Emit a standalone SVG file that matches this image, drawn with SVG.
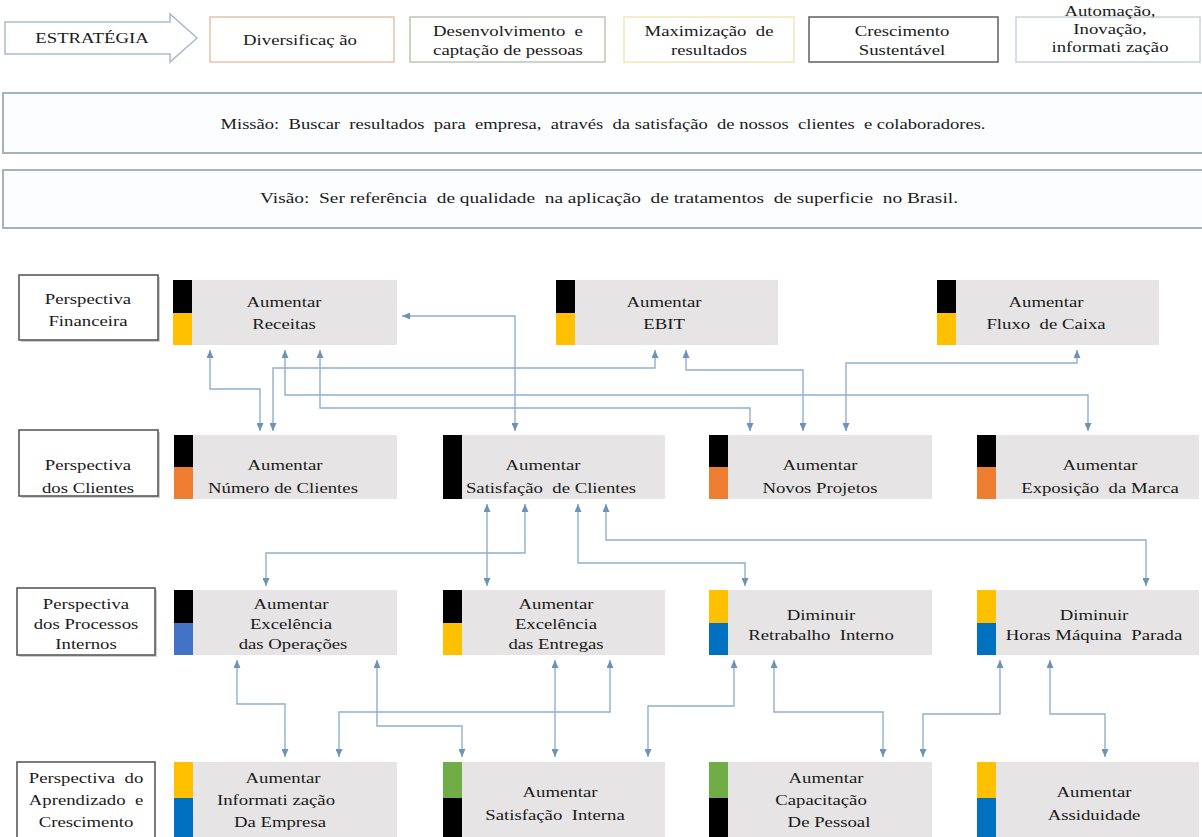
<svg xmlns="http://www.w3.org/2000/svg" width="1202" height="837" viewBox="0 0 1202 837" font-family="Liberation Serif, Times New Roman, serif">
<style>
.t{font-size:15px;fill:#1a1a1a;text-anchor:middle;white-space:pre}
.gb{fill:#e6e4e4}
.pb{fill:#ffffff;stroke:#5a5a5a;stroke-width:1.6}
.sh{fill:#d0d0d0}
.c{fill:none;stroke:#8fb0cd;stroke-width:1.4;marker-start:url(#ah);marker-end:url(#ah)}
.sb{fill:#ffffff;stroke-width:1.5}
.mv{fill:#fcfdfe;stroke:#a5b1bc;stroke-width:2}
</style>
<defs>
<marker id="ah" viewBox="0 0 8 7" refX="8" refY="3.5" markerWidth="8" markerHeight="7" markerUnits="userSpaceOnUse" orient="auto-start-reverse">
<path d="M0,0 L8,3.5 L0,7 z" fill="#6f93b6"/>
</marker>
</defs>
<rect width="1202" height="837" fill="#ffffff"/>

<g id="estrategia">
<polygon points="5,22 170,22 170,14 197,38 170,62 170,54 5,54" fill="#ffffff" stroke="#a9bacb" stroke-width="1.5"/>
<text class="t" transform="translate(92 43) scale(1.25 1)">ESTRATÉGIA</text>
</g>
<g id="s-diversificacao">
<rect class="sb" x="210" y="17" width="184" height="45" stroke="#e3c4aa"/>
<text class="t" transform="translate(300 45) scale(1.25 1)">Diversificaç ão</text>
</g>
<g id="s-desenvolvimento">
<rect class="sb" x="410" y="17" width="195" height="45" stroke="#bcc6b6"/>
<text class="t" transform="translate(508 36) scale(1.25 1)">Desenvolvimento  e</text>
<text class="t" transform="translate(508 55) scale(1.25 1)">captação de pessoas</text>
</g>
<g id="s-maximizacao">
<rect class="sb" x="624" y="17" width="170" height="45" stroke="#f1e7b6"/>
<text class="t" transform="translate(709 36) scale(1.25 1)">Maximização  de</text>
<text class="t" transform="translate(709 55) scale(1.25 1)">resultados</text>
</g>
<g id="s-crescimento">
<rect class="sb" x="809" y="17" width="189" height="45" stroke="#5f5f5f" stroke-width="2"/>
<text class="t" transform="translate(902 36) scale(1.25 1)">Crescimento</text>
<text class="t" transform="translate(902 55) scale(1.25 1)">Sustentável</text>
</g>
<g id="s-automacao">
<rect class="sb" x="1016" y="17" width="184" height="45" stroke="#c9d3da"/>
<text class="t" transform="translate(1110 16) scale(1.25 1)">Automação,</text>
<text class="t" transform="translate(1110 34) scale(1.25 1)">Inovação,</text>
<text class="t" transform="translate(1110 52) scale(1.25 1)">informati zação</text>
</g>

<g id="missao">
<rect class="mv" x="3" y="93" width="1210" height="60"/>
<text class="t" style="font-size:14px" x="603" y="129" textLength="765" lengthAdjust="spacingAndGlyphs">Missão:  Buscar  resultados  para  empresa,  através  da satisfação  de nossos  clientes  e colaboradores.</text>
</g>
<g id="visao">
<rect class="mv" x="3" y="170" width="1210" height="58"/>
<text class="t" style="font-size:14px" x="609" y="203" textLength="698" lengthAdjust="spacingAndGlyphs">Visão:  Ser referência  de qualidade  na aplicação  de tratamentos  de superficie  no Brasil.</text>
</g>

<g id="p-financeira">
<rect class="sh" x="21" y="277" width="139" height="65"/>
<rect class="pb" x="19" y="275" width="139" height="65"/>
<text class="t" transform="translate(88 304) scale(1.25 1)">Perspectiva</text>
<text class="t" transform="translate(88 326) scale(1.25 1)">Financeira</text>
</g>
<g id="p-clientes">
<rect class="sh" x="21" y="432" width="139" height="66"/>
<rect class="pb" x="19" y="430" width="139" height="66"/>
<text class="t" transform="translate(88 470) scale(1.25 1)">Perspectiva</text>
<text class="t" transform="translate(88 493) scale(1.25 1)">dos Clientes</text>
</g>
<g id="p-processos">
<rect class="sh" x="19" y="590" width="138" height="67"/>
<rect class="pb" x="17" y="588" width="138" height="67"/>
<text class="t" transform="translate(86 609) scale(1.25 1)">Perspectiva</text>
<text class="t" transform="translate(86 629) scale(1.25 1)">dos Processos</text>
<text class="t" transform="translate(86 649) scale(1.25 1)">Internos</text>
</g>
<g id="p-aprendizado">
<rect class="pb" x="17" y="762" width="138" height="90"/>
<text class="t" transform="translate(86 783) scale(1.25 1)">Perspectiva  do</text>
<text class="t" transform="translate(86 805) scale(1.25 1)">Aprendizado  e</text>
<text class="t" transform="translate(86 827) scale(1.25 1)">Crescimento</text>
</g>

<g id="n-receitas">
<rect class="gb" x="192" y="280" width="205" height="65"/>
<rect x="173" y="280" width="19" height="33" fill="#000"/>
<rect x="173" y="313" width="19" height="32" fill="#ffc000"/>
<text class="t" transform="translate(284 307) scale(1.25 1)">Aumentar</text>
<text class="t" transform="translate(284 329) scale(1.25 1)">Receitas</text>
</g>
<g id="n-ebit">
<rect class="gb" x="575" y="280" width="203" height="65"/>
<rect x="556" y="280" width="19" height="33" fill="#000"/>
<rect x="556" y="313" width="19" height="32" fill="#ffc000"/>
<text class="t" transform="translate(664 307) scale(1.25 1)">Aumentar</text>
<text class="t" transform="translate(664 329) scale(1.25 1)">EBIT</text>
</g>
<g id="n-fluxo">
<rect class="gb" x="956" y="280" width="203" height="65"/>
<rect x="937" y="280" width="19" height="33" fill="#000"/>
<rect x="937" y="313" width="19" height="32" fill="#ffc000"/>
<text class="t" transform="translate(1046 307) scale(1.25 1)">Aumentar</text>
<text class="t" transform="translate(1046 329) scale(1.25 1)">Fluxo  de Caixa</text>
</g>

<g id="n-numero-clientes">
<rect class="gb" x="193" y="435" width="204" height="64"/>
<rect x="174" y="435" width="19" height="32" fill="#000"/>
<rect x="174" y="467" width="19" height="32" fill="#ed7d31"/>
<text class="t" transform="translate(285 470) scale(1.25 1)">Aumentar</text>
<text class="t" transform="translate(283 493) scale(1.25 1)">Número de Clientes</text>
</g>
<g id="n-satisfacao-clientes">
<rect class="gb" x="462" y="435" width="203" height="64"/>
<rect x="443" y="435" width="19" height="64" fill="#000"/>
<text class="t" transform="translate(543 470) scale(1.25 1)">Aumentar</text>
<text class="t" transform="translate(551 493) scale(1.25 1)">Satisfação  de Clientes</text>
</g>
<g id="n-novos-projetos">
<rect class="gb" x="728" y="435" width="204" height="64"/>
<rect x="709" y="435" width="19" height="32" fill="#000"/>
<rect x="709" y="467" width="19" height="32" fill="#ed7d31"/>
<text class="t" transform="translate(820 470) scale(1.25 1)">Aumentar</text>
<text class="t" transform="translate(820 493) scale(1.25 1)">Novos Projetos</text>
</g>
<g id="n-exposicao-marca">
<rect class="gb" x="996" y="435" width="203" height="64"/>
<rect x="977" y="435" width="19" height="32" fill="#000"/>
<rect x="977" y="467" width="19" height="32" fill="#ed7d31"/>
<text class="t" transform="translate(1100 470) scale(1.25 1)">Aumentar</text>
<text class="t" transform="translate(1100 493) scale(1.25 1)">Exposição  da Marca</text>
</g>

<g id="n-excelencia-operacoes">
<rect class="gb" x="193" y="590" width="204" height="65"/>
<rect x="174" y="590" width="19" height="33" fill="#000"/>
<rect x="174" y="623" width="19" height="32" fill="#4472c4"/>
<text class="t" transform="translate(291 609) scale(1.25 1)">Aumentar</text>
<text class="t" transform="translate(291 629) scale(1.25 1)">Excelência</text>
<text class="t" transform="translate(293 649) scale(1.25 1)">das Operações</text>
</g>
<g id="n-excelencia-entregas">
<rect class="gb" x="462" y="590" width="203" height="65"/>
<rect x="443" y="590" width="19" height="33" fill="#000"/>
<rect x="443" y="623" width="19" height="32" fill="#ffc000"/>
<text class="t" transform="translate(556 609) scale(1.25 1)">Aumentar</text>
<text class="t" transform="translate(556 629) scale(1.25 1)">Excelência</text>
<text class="t" transform="translate(556 649) scale(1.25 1)">das Entregas</text>
</g>
<g id="n-retrabalho">
<rect class="gb" x="728" y="590" width="204" height="65"/>
<rect x="709" y="590" width="19" height="33" fill="#ffc000"/>
<rect x="709" y="623" width="19" height="32" fill="#0070c0"/>
<text class="t" transform="translate(821 620) scale(1.25 1)">Diminuir</text>
<text class="t" transform="translate(821 640) scale(1.25 1)">Retrabalho  Interno</text>
</g>
<g id="n-horas-maquina">
<rect class="gb" x="996" y="590" width="203" height="65"/>
<rect x="977" y="590" width="19" height="33" fill="#ffc000"/>
<rect x="977" y="623" width="19" height="32" fill="#0070c0"/>
<text class="t" transform="translate(1094 620) scale(1.25 1)">Diminuir</text>
<text class="t" transform="translate(1094 640) scale(1.25 1)">Horas Máquina  Parada</text>
</g>

<g id="n-informatizacao">
<rect class="gb" x="193" y="762" width="204" height="90"/>
<rect x="174" y="762" width="19" height="36" fill="#ffc000"/>
<rect x="174" y="798" width="19" height="54" fill="#0070c0"/>
<text class="t" transform="translate(283 783) scale(1.25 1)">Aumentar</text>
<text class="t" transform="translate(276 805) scale(1.25 1)">Informati zação</text>
<text class="t" transform="translate(280 827) scale(1.25 1)">Da Empresa</text>
</g>
<g id="n-satisfacao-interna">
<rect class="gb" x="462" y="762" width="203" height="90"/>
<rect x="443" y="762" width="19" height="36" fill="#70ad47"/>
<rect x="443" y="798" width="19" height="54" fill="#000"/>
<text class="t" transform="translate(560 797) scale(1.25 1)">Aumentar</text>
<text class="t" transform="translate(555 820) scale(1.25 1)">Satisfação  Interna</text>
</g>
<g id="n-capacitacao">
<rect class="gb" x="728" y="762" width="204" height="90"/>
<rect x="709" y="762" width="19" height="36" fill="#70ad47"/>
<rect x="709" y="798" width="19" height="54" fill="#000"/>
<text class="t" transform="translate(826 783) scale(1.25 1)">Aumentar</text>
<text class="t" transform="translate(821 805) scale(1.25 1)">Capacitação</text>
<text class="t" transform="translate(829 827) scale(1.25 1)">De Pessoal</text>
</g>
<g id="n-assiduidade">
<rect class="gb" x="996" y="762" width="203" height="90"/>
<rect x="977" y="762" width="19" height="36" fill="#ffc000"/>
<rect x="977" y="798" width="19" height="54" fill="#0070c0"/>
<text class="t" transform="translate(1094 797) scale(1.25 1)">Aumentar</text>
<text class="t" transform="translate(1094 820) scale(1.25 1)">Assiduidade</text>
</g>

<g id="connectors">
<path class="c" d="M210,350 V389 H260 V431"/>
<path class="c" d="M273,431 V368 H655 V350"/>
<path class="c" d="M285,350 V395 H1088 V431"/>
<path class="c" d="M320,350 V408 H750 V431"/>
<path class="c" d="M686,350 V370 H803 V431"/>
<path class="c" d="M1077,350 V363 H846 V431"/>
<path class="c" d="M402,316 H515 V431"/>

<path class="c" d="M487,504 V586"/>
<path class="c" d="M525,504 V553 H266 V586"/>
<path class="c" d="M578,504 V563 H745 V586"/>
<path class="c" d="M606,504 V540 H1146 V586"/>

<path class="c" d="M237,660 V704 H285 V757"/>
<path class="c" d="M377,660 V726 H462 V757"/>
<path class="c" d="M555,660 V757"/>
<path class="c" d="M610,660 V712 H339 V757"/>
<path class="c" d="M734,660 V706 H648 V757"/>
<path class="c" d="M774,660 V712 H883 V757"/>
<path class="c" d="M1000,660 V714 H923 V757"/>
<path class="c" d="M1050,660 V714 H1105 V757"/>
</g>
</svg>
